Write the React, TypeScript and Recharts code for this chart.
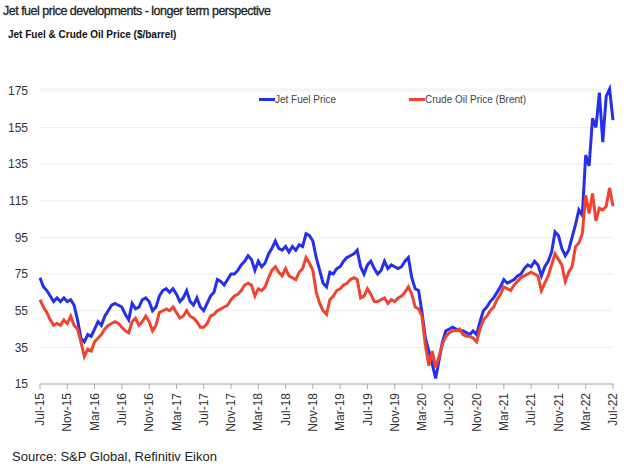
import { LineChart, Line, XAxis, YAxis, CartesianGrid } from 'recharts';

// months since Jul-15, every half month
const MONTHS = Array.from({ length: 169 }, (_, i) => i / 2);

const JET_FUEL = [
  73, 68, 66, 63, 60, 62, 60, 62, 60, 61, 58, 50, 40, 38, 42, 41, 45, 49, 47, 52,
  55, 58, 59, 58, 57, 53, 50, 59, 56, 57, 61, 62, 60, 55, 57, 63, 66, 67, 65, 67,
  64, 60, 62, 66, 60, 58, 62, 57, 55, 59, 63, 65, 72, 71, 69, 72, 75, 75, 77, 80,
  82, 85, 83, 77, 82, 79, 81, 86, 89, 93, 89, 88, 90, 87, 90, 88, 91, 90, 97, 96,
  93, 84, 77, 70, 68, 76, 75, 78, 79, 82, 84, 85, 86, 88, 79, 75, 80, 82, 78, 75,
  77, 82, 78, 80, 79, 78, 79, 82, 84, 73, 67, 66, 54, 40, 33, 26, 18, 28, 38, 44,
  45, 46, 45, 44, 44, 43, 42, 44, 42, 49, 55, 57, 60, 62, 65, 68, 72, 70, 71, 72,
  74, 75, 78, 80, 79, 82, 80, 74, 79, 82, 87, 98, 96, 89, 85, 88, 95, 102, 110, 107,
  140, 134, 160, 155, 174, 147, 172, 176, 159,
];

const BRENT = [
  61, 57, 54, 50, 47, 48, 47, 50, 48, 52, 47, 45, 38, 30, 34, 33, 38, 40, 42, 45,
  47, 48, 49, 48, 46, 44, 43, 49, 51, 47, 49, 52, 49, 44, 47, 54, 55, 56, 55, 57,
  54, 51, 52, 55, 52, 51, 49, 46, 46, 48, 52, 53, 55, 56, 57, 58, 61, 63, 64, 66,
  69, 70, 69, 63, 67, 66, 68, 73, 77, 79, 76, 74, 78, 74, 73, 72, 76, 78, 84, 81,
  77, 65, 59, 55, 53, 61, 63, 66, 67, 69, 70, 72, 73, 72, 62, 63, 67, 64, 60, 60,
  61, 62, 59, 61, 60, 62, 63, 65, 68, 64, 57, 56, 52, 36, 25, 33, 24, 30, 37, 41,
  43, 44, 44, 45, 42, 41, 41, 40, 38, 45, 50, 52, 55, 57, 61, 64, 68, 67, 66, 69,
  71, 73, 74, 75, 76, 75, 74, 66, 70, 74, 80, 86, 83, 80, 71, 76, 79, 90, 92, 97,
  118, 108, 119, 104, 111, 110, 112, 122, 112,
];

const TICK_MONTHS = [0, 4, 8, 12, 16, 20, 24, 28, 32, 36, 40, 44, 48, 52, 56, 60, 64, 68, 72, 76, 80, 84];
const TICK_LABELS = [
  'Jul-15', 'Nov-15', 'Mar-16', 'Jul-16', 'Nov-16', 'Mar-17', 'Jul-17', 'Nov-17', 'Mar-18', 'Jul-18', 'Nov-18',
  'Mar-19', 'Jul-19', 'Nov-19', 'Mar-20', 'Jul-20', 'Nov-20', 'Mar-21', 'Jul-21', 'Nov-21', 'Mar-22', 'Jul-22',
];
const Y_TICKS = [15, 35, 55, 75, 95, 115, 135, 155, 175];

const BLUE = '#2530e8';
const RED = '#ee4430';
const FONT = '"Liberation Sans", Arial, sans-serif';

const data = MONTHS.map((m, i) => ({ m, jet: JET_FUEL[i], brent: BRENT[i] }));

function MonthTick(props: any) {
  const { x, y, payload } = props;
  const label = TICK_LABELS[TICK_MONTHS.indexOf(payload.value)];
  return (
    <text
      x={x}
      y={y}
      transform={`rotate(-90, ${x}, ${y})`}
      dy="0.35em"
      textAnchor="end"
      fontSize={12}
      fill="#333"
      fontFamily={FONT}
    >
      {label}
    </text>
  );
}

function LegendItem({ color, label, left }: { color: string; label: string; left: number }) {
  return (
    <div style={{ position: 'absolute', left, top: 92, display: 'flex', alignItems: 'center', height: 14 }}>
      <span style={{ width: 16, height: 3, background: color, display: 'inline-block' }} />
      <span style={{ fontSize: 10, color: '#444', fontFamily: FONT }}>{label}</span>
    </div>
  );
}

export default function App() {
  return (
    <div style={{ position: 'absolute', left: 0, top: 0, width: 640, height: 468, background: '#fff', fontFamily: FONT }}>
      <div
        style={{
          position: 'absolute',
          left: 3,
          top: 4,
          fontSize: 12.5,
          color: '#222',
          letterSpacing: -0.5,
          WebkitTextStroke: '0.3px #222',
        }}
      >
        Jet fuel price developments - longer term perspective
      </div>
      <div style={{ position: 'absolute', left: 8, top: 29, fontSize: 10, color: '#111', fontWeight: 700 }}>
        Jet Fuel &amp; Crude Oil Price ($/barrel)
      </div>
      <LineChart width={640} height={468} data={data} margin={{ top: 89, right: 27, bottom: 0, left: 0 }}>
        <CartesianGrid vertical={false} stroke="#eeeeee" />
        <XAxis
          dataKey="m"
          type="number"
          domain={[0, 84]}
          ticks={TICK_MONTHS}
          interval={0}
          height={84}
          stroke="#aaa"
          tickSize={5}
          tickMargin={4}
          tick={<MonthTick />}
        />
        <YAxis
          domain={[15, 175]}
          ticks={Y_TICKS}
          width={40}
          axisLine={false}
          tickLine={false}
          tickSize={0}
          tickMargin={12}
          tick={{ fontSize: 12, fill: '#333', fontFamily: FONT }}
        />
        <Line dataKey="jet" name="Jet Fuel Price" stroke={BLUE} strokeWidth={3} dot={false} isAnimationActive={false} />
        <Line dataKey="brent" name="Crude Oil Price (Brent)" stroke={RED} strokeWidth={3} dot={false} isAnimationActive={false} />
      </LineChart>
      <LegendItem color={BLUE} label="Jet Fuel Price" left={259} />
      <LegendItem color={RED} label="Crude Oil Price (Brent)" left={409} />
      <div style={{ position: 'absolute', left: 12, top: 449, fontSize: 13, color: '#222' }}>
        Source: S&amp;P Global, Refinitiv Eikon
      </div>
    </div>
  );
}
